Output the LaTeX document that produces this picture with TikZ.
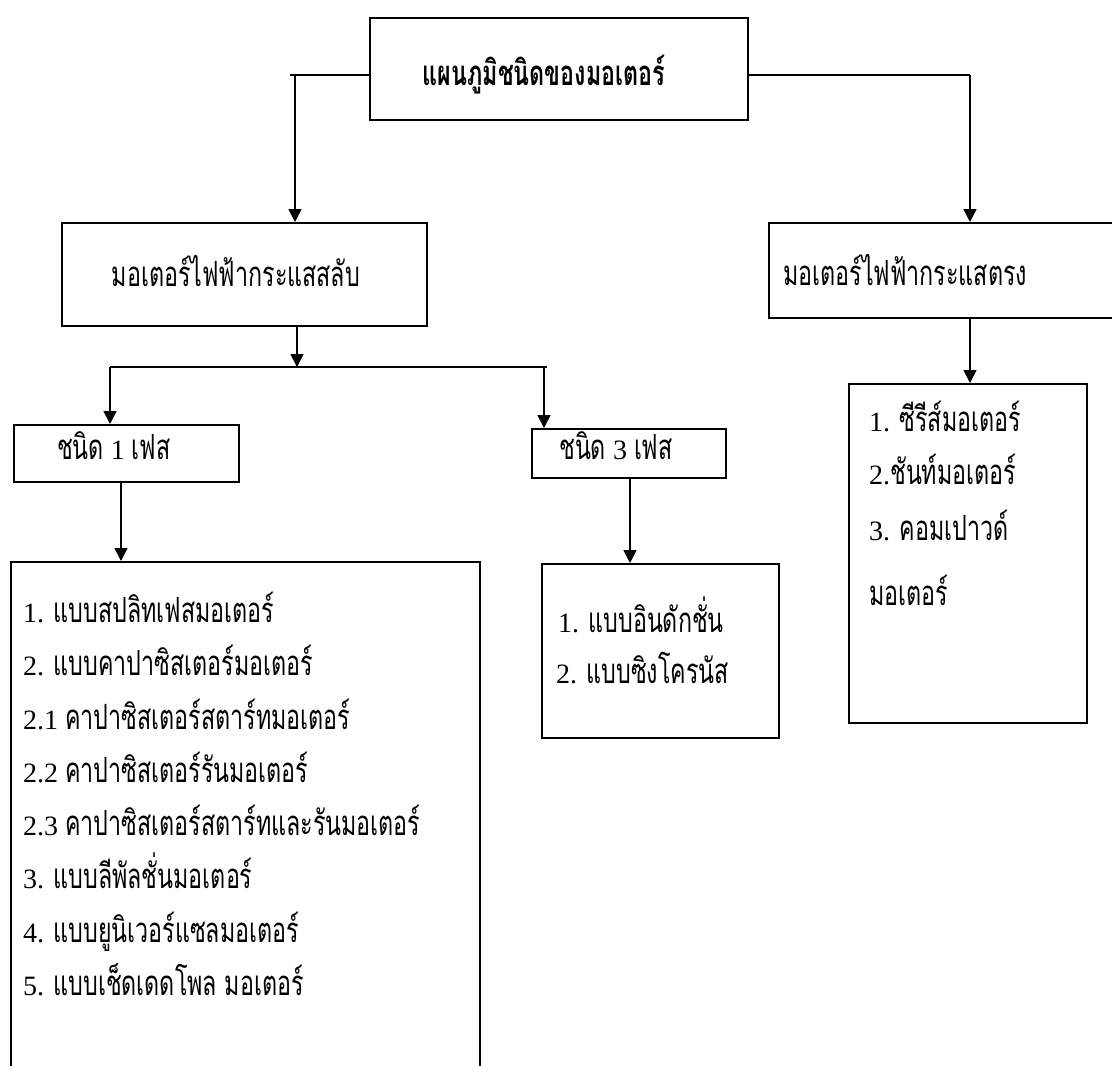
\documentclass[tikz,border=0pt]{standalone}
\usepackage{fontspec}
\setmainfont{Liberation Serif}
\newfontfamily\thaifont[Script=Thai,FakeStretch=0.67,Scale=1.24]{Loma}
\newcommand{\T}[1]{{\thaifont #1}}
\usetikzlibrary{arrows.meta}
\begin{document}
\begin{tikzpicture}[x=1pt,y=-1pt,
  box/.style={draw,line width=1.6pt,inner sep=0pt,anchor=north west},
  arr/.style={-{Triangle[length=13pt,width=13pt]},line width=1.6pt},
  ln/.style={line width=1.6pt},
  txt/.style={anchor=base west,inner sep=0pt,font=\fontsize{28}{28}\selectfont},
  ctxt/.style={anchor=base,inner sep=0pt,font=\fontsize{28}{28}\selectfont}]
\useasboundingbox (0,0) rectangle (1112,1066);
\clip (0,0) rectangle (1112,1066);
% boxes
\node[box,minimum width=378pt,minimum height=102pt] (top) at (369,17) {};
\node[box,minimum width=365pt,minimum height=103pt] (ac) at (61,222) {};
\node[box,minimum width=350pt,minimum height=95pt] (dc) at (768,222) {};
\node[box,minimum width=225pt,minimum height=57pt] (one) at (13,424) {};
\node[box,minimum width=194pt,minimum height=49pt] (three) at (531,428) {};
\node[box,minimum width=469pt,minimum height=620pt] (lone) at (10,561) {};
\node[box,minimum width=237pt,minimum height=174pt] (lthree) at (541,563) {};
\node[box,minimum width=238pt,minimum height=339pt] (ldc) at (848,383) {};
% texts
\node[ctxt] (ttop) at (544,85) {\bfseries\T{แผนภูมิชนิดของมอเตอร์}};
\node[ctxt] (tac) at (236,286) {\T{มอเตอร์ไฟฟ้ากระแสสลับ}};
\node[txt] (tdc) at (783,285) {\T{มอเตอร์ไฟฟ้ากระแสตรง}};
\node[txt] (tone) at (57,459) {\T{ชนิด} 1 \T{เฟส}};
\node[txt] (tthree) at (559,459) {\T{ชนิด} 3 \T{เฟส}};
\node[txt] (a1) at (23,622) {1. \T{แบบสปลิทเฟสมอเตอร์}};
\node[txt] (a2) at (23,675) {2. \T{แบบคาปาซิสเตอร์มอเตอร์}};
\node[txt] (a3) at (23,729) {2.1 \T{คาปาซิสเตอร์สตาร์ทมอเตอร์}};
\node[txt] (a4) at (23,782) {2.2 \T{คาปาซิสเตอร์รันมอเตอร์}};
\node[txt] (a5) at (23,835) {2.3 \T{คาปาซิสเตอร์สตาร์ทและรันมอเตอร์}};
\node[txt] (a6) at (23,888) {3. \T{แบบลีพัลชั่นมอเตอร์}};
\node[txt] (a7) at (23,942) {4. \T{แบบยูนิเวอร์แซลมอเตอร์}};
\node[txt] (a8) at (23,995) {5. \T{แบบเช็ดเดดโพล มอเตอร์}};
\node[txt] (b1) at (558,632) {1. \T{แบบอินดักชั่น}};
\node[txt] (b2) at (556,683) {2. \T{แบบซิงโครนัส}};
\node[txt] (c1) at (869,431) {1. \T{ซีรีส์มอเตอร์}};
\node[txt] (c2) at (869,484) {2.\T{ชันท์มอเตอร์}};
\node[txt] (c3) at (869,540) {3. \T{คอมเปาวด์}};
\node[txt] (c4) at (869,605) {\T{มอเตอร์}};
% connectors
\coordinate (tw) at (369,75);
\coordinate (tl) at (290,75);
\coordinate (tlv) at (295,75);
\coordinate (te) at (747,75);
\coordinate (tr) at (970,75);
\draw[ln] (tw) -- (tl);
\draw[arr] (tlv) -- (tlv |- ac.north);
\draw[ln] (te) -- (tr);
\draw[arr] (tr) -- (tr |- dc.north);
\coordinate (acb) at (297,325);
\coordinate (acj) at (297,367);
\coordinate (hl) at (110,367);
\coordinate (hr) at (547,367);
\coordinate (hr2) at (544,367);
\draw[arr] (acb) -- (acj);
\draw[ln] (hl) -- (hr);
\draw[arr] (hl) -- (hl |- one.north);
\draw[arr] (hr2) -- (hr2 |- three.north);
\coordinate (ob) at (121,481);
\draw[arr] (ob) -- (ob |- lone.north);
\coordinate (thb) at (630,477);
\draw[arr] (thb) -- (thb |- lthree.north);
\coordinate (dcb) at (970,317);
\draw[arr] (dcb) -- (dcb |- ldc.north);
\end{tikzpicture}
\end{document}
